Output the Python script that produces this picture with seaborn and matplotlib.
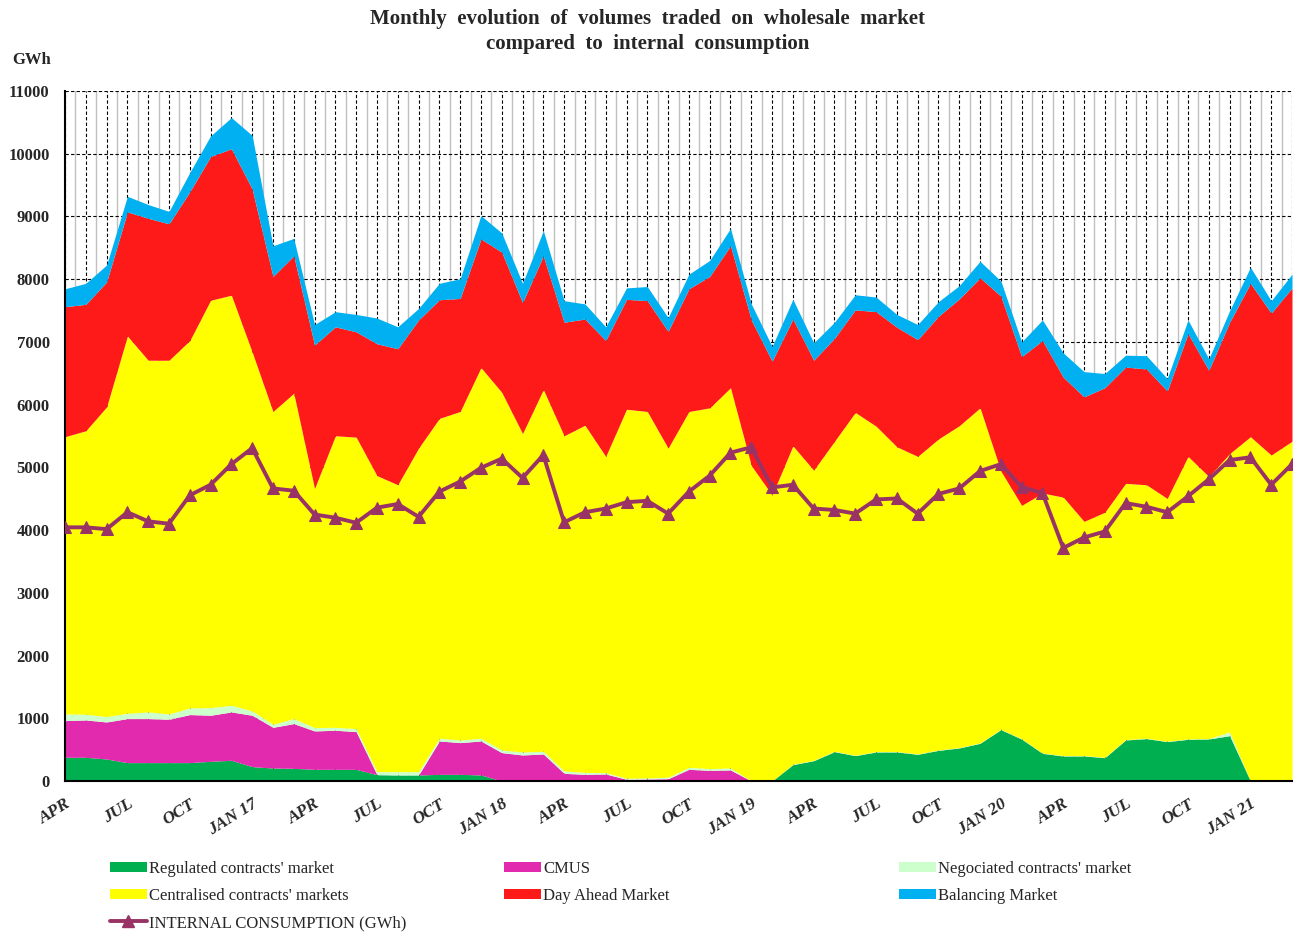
import matplotlib
matplotlib.use('Agg')
import matplotlib.pyplot as plt
import matplotlib.patches as mpatches
from matplotlib.lines import Line2D
from matplotlib.ticker import MultipleLocator
import numpy as np
import pandas as pd
import seaborn as sns

# Months Apr 2016 .. Mar 2021, labels every quarter
month_labels = ['APR', 'JUL', 'OCT', 'JAN 17', 'APR', 'JUL', 'OCT', 'JAN 18',
                'APR', 'JUL', 'OCT', 'JAN 19', 'APR', 'JUL', 'OCT', 'JAN 20',
                'APR', 'JUL', 'OCT', 'JAN 21']
n_months = 60

# Volumes traded per market (GWh)
regulated = [378, 378, 351, 293, 293, 293, 293, 314, 330, 229, 207, 202, 186, 186, 186,
             101, 96, 96, 106, 106, 96, 0, 0, 0, 0, 0, 0, 0, 0, 0,
             0, 0, 0, 0, 0, 261, 324, 468, 404, 463, 463, 426, 489, 527, 601,
             819, 668, 441, 399, 399, 372, 654, 676, 628, 665, 670, 723, 0, 0, 0]
cmus = [585, 595, 590, 702, 702, 691, 766, 734, 771, 819, 649, 713, 612, 623, 601,
        0, 0, 0, 532, 506, 542, 452, 415, 431, 122, 106, 112, 27, 32, 37,
        186, 170, 176, 0, 0, 0, 0, 0, 0, 0, 0, 0, 0, 0, 0,
        0, 0, 0, 0, 0, 0, 0, 0, 0, 0, 0, 0, 0, 0, 0]
negociated = [106, 91, 86, 85, 106, 85, 106, 122, 106, 69, 48, 80, 53, 47, 48,
              49, 53, 53, 43, 42, 43, 43, 48, 42, 38, 32, 21, 16, 16, 22,
              32, 27, 31, 0, 0, 7, 6, 6, 6, 6, 6, 6, 6, 6, 6,
              6, 6, 6, 6, 6, 6, 6, 6, 6, 6, 6, 59, 0, 0, 0]
centralised = [4420, 4520, 4937, 6015, 5607, 5639, 5857, 6494, 6538, 5722, 4987, 5187, 3813, 4648, 4647,
               4719, 4574, 5158, 5100, 5237, 5910, 5702, 5077, 5768, 5344, 5534, 5042, 5884, 5843, 5248,
               5673, 5752, 6063, 5029, 4560, 5075, 4626, 4942, 5466, 5188, 4859, 4743, 4958, 5131, 5342,
               4117, 3720, 4144, 4121, 3734, 3907, 4085, 4041, 3870, 4504, 4178, 4437, 5489, 5197, 5416]
day_ahead = [2073, 2015, 1992, 1978, 2263, 2175, 2372, 2292, 2335, 2599, 2153, 2190, 2285, 1737, 1679,
             2102, 2168, 2043, 1891, 1802, 2051, 2234, 2088, 2131, 1810, 1693, 1847, 1752, 1766, 1861,
             1956, 2095, 2263, 2321, 2133, 2022, 1752, 1642, 1635, 1825, 1906, 1861, 1956, 2022, 2073,
             2788, 2372, 2431, 1912, 1985, 1985, 1854, 1846, 1715, 1956, 1693, 2095, 2445, 2263, 2445]
balancing = [285, 335, 270, 248, 219, 197, 307, 329, 497, 854, 489, 278, 328, 241, 277,
             409, 350, 183, 262, 314, 372, 306, 306, 402, 343, 241, 219, 182, 226, 219,
             233, 255, 277, 256, 234, 314, 277, 256, 241, 233, 204, 241, 233, 211, 263,
             241, 234, 328, 387, 402, 226, 189, 212, 197, 219, 183, 182, 256, 197, 219]
consumption = [4044, 4044, 4015, 4285, 4139, 4102, 4555, 4723, 5051, 5307, 4664, 4628, 4248, 4197, 4117,
               4358, 4416, 4212, 4613, 4774, 4993, 5139, 4832, 5197, 4124, 4285, 4343, 4445, 4467, 4263,
               4613, 4869, 5234, 5321, 4680, 4723, 4343, 4321, 4263, 4489, 4504, 4263, 4577, 4664, 4942,
               5051, 4686, 4591, 3715, 3883, 3978, 4431, 4372, 4285, 4540, 4810, 5117, 5161, 4723, 5051]

series_names = ["Regulated contracts' market", "CMUS", "Negociated contracts' market",
                "Centralised contracts' markets", "Day Ahead Market", "Balancing Market"]
series_colors = ['#00B050', '#E22AAE', '#CCFFCC', '#FFFF00', '#FF1A1A', '#00B0F0']
line_color = '#993366'

sns.set_style('white')
plt.rcParams['font.family'] = ['Liberation Serif', 'DejaVu Serif']

x = np.arange(n_months)
df = pd.DataFrame({'month': x, 'consumption': consumption})

fig = plt.figure(figsize=(12.95, 9.35), dpi=100)
ax = fig.add_axes([65 / 1295, 1 - 781 / 935, 1227 / 1295, 690 / 935])

ax.stackplot(x, regulated, cmus, negociated, centralised, day_ahead, balancing,
             colors=series_colors, linewidth=0, zorder=2)
sns.lineplot(data=df, x='month', y='consumption', ax=ax, color=line_color,
             linewidth=2.8, marker='^', markersize=9, markeredgecolor=line_color,
             zorder=4, legend=False)

ax.set_xlim(0, n_months - 1)
ax.set_ylim(0, 11000)
ax.yaxis.set_major_locator(MultipleLocator(1000))
ax.set_xticks(x)
ax.set_xticks(x[:-1] + 0.5, minor=True)
ax.set_xticklabels([month_labels[i // 3] if i % 3 == 0 else '' for i in x],
                   rotation=32, ha='right', rotation_mode='anchor',
                   fontsize=12.5, fontweight='bold', fontstyle='italic')
for lab in ax.get_yticklabels():
    lab.set_fontsize(12)
    lab.set_fontweight('bold')
ax.tick_params(axis='x', which='major', direction='out', length=5, width=1, color='black', pad=6)
ax.tick_params(axis='x', which='minor', length=0)
ax.tick_params(axis='y', direction='out', length=5, width=1, color='black', pad=6)

# grid: dashed black at months and thousands, gray solid between months
ax.grid(True, which='major', axis='both', color='black', linestyle=(0, (3, 2)), linewidth=0.8, zorder=0)
ax.grid(True, which='minor', axis='x', color='#C0C0C0', linestyle='-', linewidth=1.0, zorder=0)
ax.set_axisbelow(True)
ax.set_xlabel('')
ax.set_ylabel('')
for side in ['left', 'bottom']:
    ax.spines[side].set_color('black')
    ax.spines[side].set_linewidth(1.5)
for side in ['top', 'right']:
    ax.spines[side].set_visible(False)

fig.text(0.5, 1 - 19 / 935, 'Monthly  evolution  of  volumes  traded  on  wholesale  market',
         ha='center', va='center', fontsize=15, fontweight='bold')
fig.text(0.5, 1 - 44 / 935, 'compared  to  internal  consumption',
         ha='center', va='center', fontsize=15, fontweight='bold')
fig.text(32 / 1295, 1 - 60 / 935, 'GWh', ha='center', va='center', fontsize=12, fontweight='bold')

patches = [mpatches.Patch(facecolor=c, edgecolor='none', label=n) for c, n in zip(series_colors, series_names)]
cons_handle = Line2D([], [], color=line_color, linewidth=2.8, marker='^', markersize=9,
                     label='INTERNAL CONSUMPTION (GWh)')

legend_cols = [([patches[0], patches[3], cons_handle], 110),
               ([patches[1], patches[4]], 504),
               ([patches[2], patches[5]], 899)]
for handles, xpos in legend_cols:
    leg = fig.legend(handles=handles, loc='upper left',
                     bbox_to_anchor=(xpos / 1295, 1 - 861 / 935),
                     frameon=False, fontsize=12, handlelength=2.2, handleheight=0.6,
                     handletextpad=0.15, labelspacing=0.66, borderaxespad=0, borderpad=0)

fig.savefig('out.png', dpi=100)
